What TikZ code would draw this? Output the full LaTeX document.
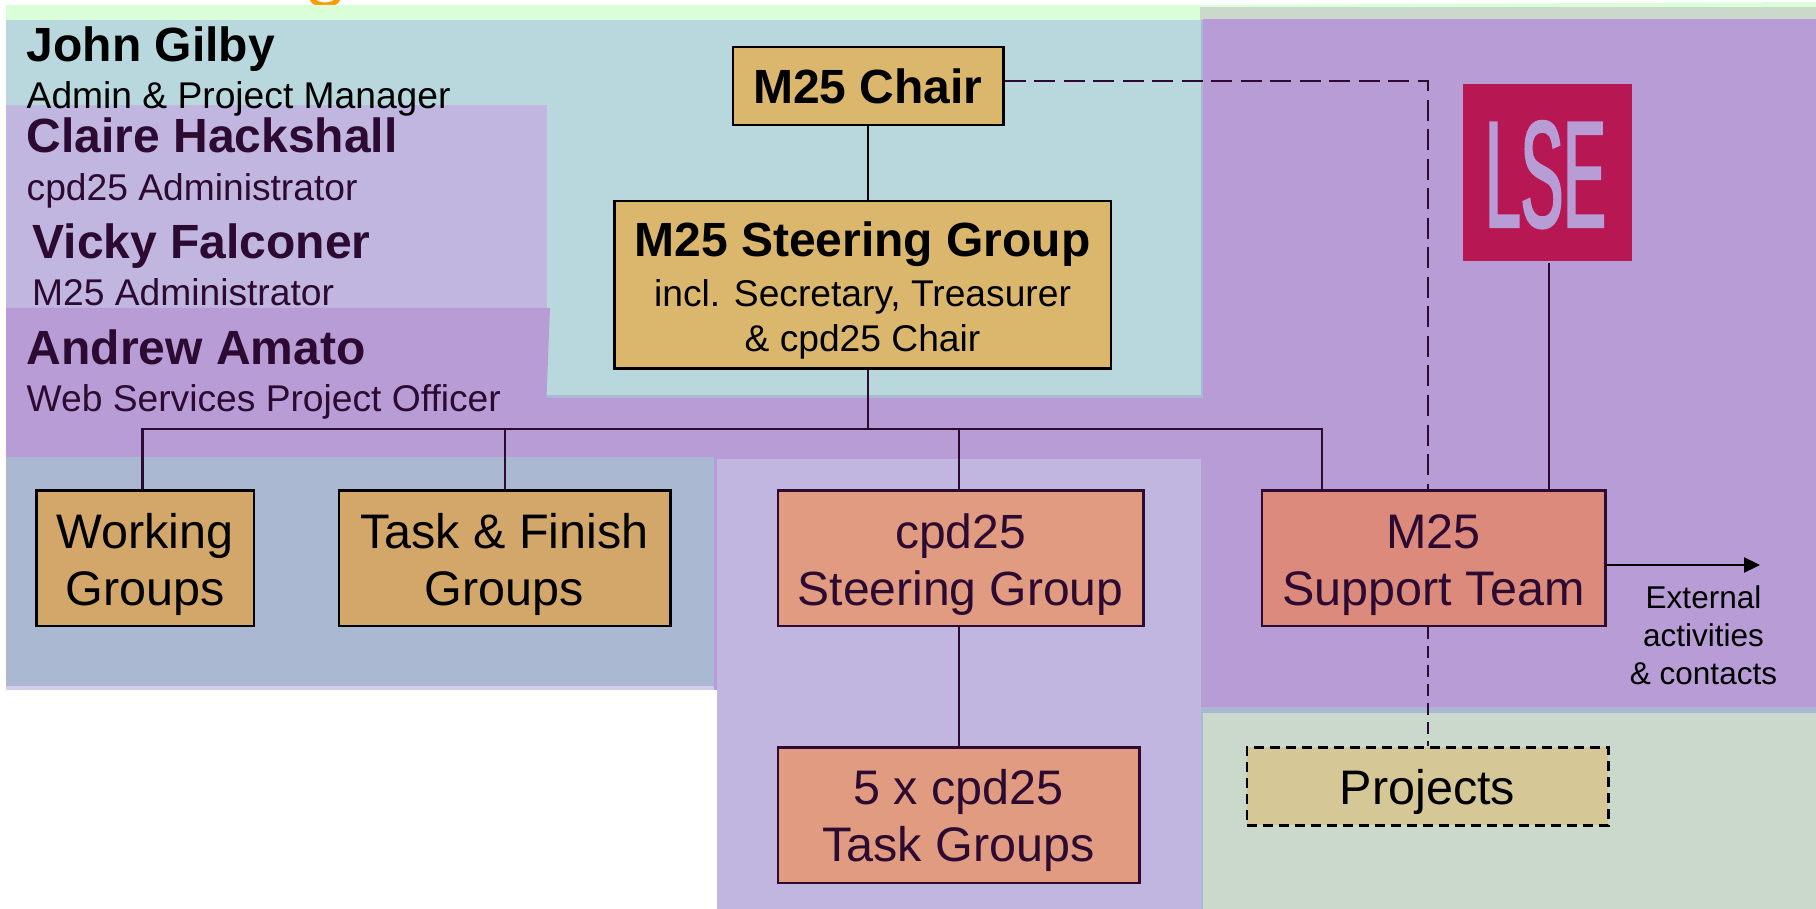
\documentclass[tikz,border=0pt]{standalone}
\usepackage{fontspec}
\setmainfont{Liberation Sans}
\newfontfamily\lsefont[FakeStretch=0.42,FakeBold=1.5]{Liberation Sans}
\usetikzlibrary{arrows.meta}
\definecolor{ink}{HTML}{2D0A31}
\definecolor{mintbg}{HTML}{DAFFD8}
\definecolor{tealbg}{HTML}{B8D8DE}
\definecolor{lilacbg}{HTML}{C1B6E0}
\definecolor{purplebg}{HTML}{B79CD6}
\definecolor{slatebg}{HTML}{ABB8D2}
\definecolor{sagebg}{HTML}{CBD8CC}
\definecolor{goldbox}{HTML}{DAB76D}
\definecolor{tanbox}{HTML}{D3A769}
\definecolor{salmonbox}{HTML}{E09B80}
\definecolor{redbox}{HTML}{DC8A7B}
\definecolor{sandbox}{HTML}{D5C796}
\definecolor{lsered}{HTML}{B71752}
\definecolor{titleorange}{HTML}{FF9900}
\newcommand{\topstrut}[1]{\rule{0pt}{#1pt}}
\newcommand{\botstrut}{\rule[-16pt]{0pt}{1pt}}
\newcommand{\bigfont}{\fontsize{48.5}{57}\selectfont}
\newcommand{\namefont}{\fontsize{48}{50}\selectfont\bfseries}
\newcommand{\rolefont}{\fontsize{37.2}{40}\selectfont}
\tikzset{
  orgbox/.style={draw,line width=2.5pt,inner sep=0pt,align=center,anchor=north west},
  blackbox/.style={orgbox,draw=black,text=black},
  inkbox/.style={orgbox,draw=ink,text=ink},
  nameline/.style={anchor=base west,inner sep=0pt,font=\namefont},
  roleline/.style={anchor=base west,inner sep=0pt,font=\rolefont},
  wire/.style={line width=2.3pt,draw=ink},
  blackwire/.style={line width=2.3pt,draw=black},
  longdash/.style={line width=2.5pt,draw=ink,dash pattern=on 21pt off 8.5pt},
  shortdash/.style={line width=2.5pt,draw=ink,dash pattern=on 12pt off 7pt},
}
\begin{document}
\begin{tikzpicture}[x=1pt,y=-1pt]
\useasboundingbox (0,0) rectangle (1816,909);
\fill[white] (0,0) rectangle (1816,909);
% cut-off title glyph
\draw[titleorange,line width=5pt] (312,-1) .. controls (316,7) and (334,7) .. (338,-1);
% background panels
\fill[mintbg] (6,5) -- (1200,5) -- (1816,2) -- (1816,20) -- (6,20) -- cycle;
\fill[tealbg] (6,20) rectangle (1201,395);
\fill[lilacbg] (6,105) rectangle (546.5,308);
\fill[sagebg] (1200,7.5) rectangle (1816,20);
\fill[slatebg] (546,395) rectangle (1203,398);
\fill[slatebg] (1201,20) rectangle (1203,395);
\fill[purplebg] (6,308) -- (550,308) -- (546.5,398) -- (1201,398) -- (1201,459) -- (6,459) -- cycle;
\fill[purplebg] (1203,19) rectangle (1816,707);
\fill[purplebg] (1190,398) rectangle (1203,707);
\fill[slatebg] (6,457) rectangle (714,686);
\fill[lilacbg!70!white] (6,686) rectangle (716,690);
\fill[purplebg] (714,457) rectangle (717,690);
\fill[lilacbg] (717,459) rectangle (1201,909);
\fill[slatebg] (1201,707) rectangle (1816,713);
\fill[slatebg] (1201,707) rectangle (1203,909);
\fill[sagebg] (1203,713) rectangle (1816,909);
% people
\node[nameline,text=black] (john) at (26.5,62) {John Gilby};
\node[roleline,text=black] (johnrole) at (26.5,109) {Admin \& Project Manager};
\node[nameline,text=ink] (claire) at (26.5,153) {Claire Hackshall};
\node[roleline,text=ink] (clairerole) at (26.5,200.5) {cpd25 Administrator};
\node[nameline,text=ink] (vicky) at (32.4,259) {Vicky Falconer};
\node[roleline,text=ink] (vickyrole) at (32,306) {M25 Administrator};
\node[nameline,text=ink] (andrew) at (26.5,365) {Andrew Amato};
\node[roleline,text=ink] (andrewrole) at (26.5,411) {Web Services Project Officer};
% boxes
\node[blackbox,fill=goldbox,minimum width=270.5pt,minimum height=78pt,font=\fontsize{48}{57}\selectfont\bfseries] (chair) at (731.5,46) {\topstrut{50}M25 Chair\botstrut};
\node[blackbox,fill=goldbox,minimum width=496.5pt,minimum height=167.5pt] (steer) at (613,200)
  {\fontsize{48}{47}\selectfont\bfseries\topstrut{54}M25 Steering Group\\[12pt]
   \fontsize{37.2}{47}\selectfont\mdseries incl. Secretary, Treasurer\\[9pt]
   \fontsize{37.2}{44}\selectfont\mdseries \& cpd25 Chair\botstrut};
\node[blackbox,fill=tanbox,minimum width=217.5pt,minimum height=135.5pt,font=\bigfont] (working) at (35,489) {\topstrut{53}Working\\Groups\botstrut};
\node[blackbox,fill=tanbox,minimum width=331.5pt,minimum height=135.5pt,font=\bigfont] (task) at (337.5,489) {\topstrut{53}Task \& Finish\\Groups\botstrut};
\node[inkbox,fill=salmonbox,minimum width=365.5pt,minimum height=135.5pt,font=\fontsize{48}{57}\selectfont] (cpdsteer) at (776.5,489) {\topstrut{53}cpd25\\Steering Group\botstrut};
\node[inkbox,fill=salmonbox,minimum width=361.5pt,minimum height=135.5pt,font=\bigfont] (cpdtask) at (776.5,746) {\topstrut{51}5 x cpd25\\Task Groups\botstrut};
\node[inkbox,fill=redbox,minimum width=343.5pt,minimum height=135.5pt,font=\bigfont] (support) at (1260.5,489) {\topstrut{53}M25\\Support Team\botstrut};
\node[orgbox,draw=black,text=black,fill=sandbox,dash pattern=on 10pt off 6pt,minimum width=361.5pt,minimum height=78pt,font=\bigfont] (projects) at (1245.5,746) {\topstrut{52}Projects\botstrut};
\node[anchor=north west,inner sep=0pt,fill=lsered,minimum width=169pt,minimum height=177pt] (lsebox) at (1463,84) {};
\node[anchor=base,inner sep=0pt,text=purplebg,font=\lsefont\fontsize{152}{152}\selectfont] (lse) at (1545.5,227) {LSE};
\node[anchor=base,inner sep=0pt,align=center,text=black,font=\fontsize{31.5}{38}\selectfont] (external) at (1703.5,684) {External\\activities\\\& contacts};
% junction points
\coordinate (bus) at (868,429);
\coordinate (corner) at (1428,81);
\coordinate (busw) at (142.5,429);
\coordinate (bust) at (505,429);
\coordinate (busc) at (959,429);
\coordinate (buse) at (1322,429);
\coordinate (lsedrop) at (1549,263);
\coordinate (arrowend) at (1760,565);
% connectors
\draw[blackwire] (bus |- chair.south) -- (bus |- steer.north);
\draw[wire] (bus |- steer.south) -- (bus);
\draw[wire] (busw |- working.north) -- (busw) -- (buse) -- (buse |- support.north);
\draw[wire] (bust) -- (bust |- task.north);
\draw[wire] (busc) -- (busc |- cpdsteer.north);
\draw[wire] (busc |- cpdsteer.south) -- (busc |- cpdtask.north);
\draw[wire] (lsedrop) -- (lsedrop |- support.north);
\draw[longdash] (corner -| chair.east) -- (corner) -- (corner |- support.north);
\draw[shortdash] (corner |- support.south) -- (corner |- projects.north);
\draw[blackwire,-{Triangle[length=16pt,width=15pt]}] (arrowend -| support.east) -- (arrowend);
\end{tikzpicture}
\end{document}
